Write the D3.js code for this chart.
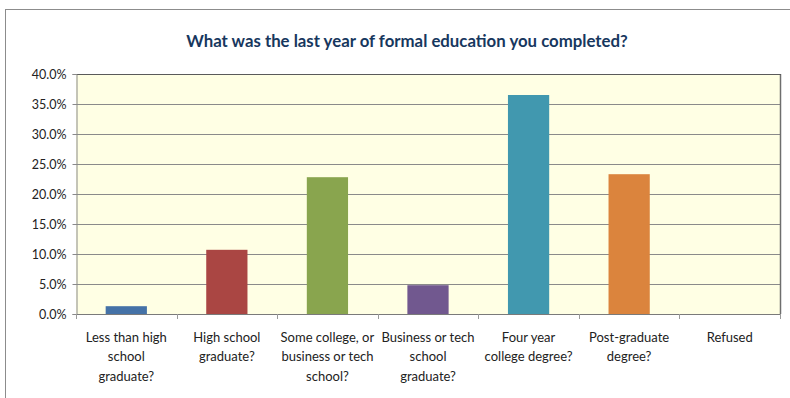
<!DOCTYPE html>
<html>
<head>
<meta charset="utf-8">
<script src="https://cdn.jsdelivr.net/npm/d3@7"></script>
<style>
  html, body { margin: 0; padding: 0; background: #fff; }
  svg { display: block; }
  text { font-family: Lato, "Open Sans", sans-serif; }
</style>
</head>
<body>
<svg id="chart" width="790" height="398"></svg>
<script>
// Survey responses: share of respondents by highest education completed
const categories = [
  "Less than high school graduate?",
  "High school graduate?",
  "Some college, or business or tech school?",
  "Business or tech school graduate?",
  "Four year college degree?",
  "Post-graduate degree?",
  "Refused"
];
const categoryLines = [
  ["Less than high", "school", "graduate?"],
  ["High school", "graduate?"],
  ["Some college, or", "business or tech", "school?"],
  ["Business or tech", "school", "graduate?"],
  ["Four year", "college degree?"],
  ["Post-graduate", "degree?"],
  ["Refused"]
];
const values = [0.013, 0.107, 0.228, 0.048, 0.365, 0.233, 0.0];
const barColors = ["#4572A7", "#AA4643", "#89A54E", "#71588F", "#4198AF", "#DB843D", "#93A9CF"];
const yTicks = [0, 0.05, 0.10, 0.15, 0.20, 0.25, 0.30, 0.35, 0.40];
const title = "What was the last year of formal education you completed?";

const svg = d3.select("#chart");
const plot = { left: 76, right: 780, top: 74, bottom: 314 };

// Outer chart frame
svg.append("rect")
  .attr("x", 5.5).attr("y", 9.5)
  .attr("width", 800).attr("height", 400)
  .attr("fill", "#fff").attr("stroke", "#8c8c8c").attr("stroke-width", 1);

svg.append("text")
  .attr("x", 407).attr("y", 47)
  .attr("text-anchor", "middle")
  .attr("font-size", 16.8).attr("font-weight", "bold")
  .attr("fill", "#17375E")
  .text(title);

const x = d3.scaleBand().domain(categories).range([plot.left, plot.right]).padding(0);
const y = d3.scaleLinear().domain([0, 0.40]).range([plot.bottom, plot.top]);

// Plot area fill
svg.append("rect")
  .attr("x", plot.left).attr("y", plot.top)
  .attr("width", plot.right - plot.left).attr("height", plot.bottom - plot.top)
  .attr("fill", "#FFFFE4");

// Horizontal gridlines
svg.append("g").selectAll("line")
  .data(yTicks.filter(t => t > 0))
  .join("line")
  .attr("x1", plot.left).attr("x2", plot.right)
  .attr("y1", d => Math.round(y(d)) + 0.5).attr("y2", d => Math.round(y(d)) + 0.5)
  .attr("stroke", "#8a8a8a").attr("stroke-width", 1);

// Right and top border of the plot area
svg.append("line")
  .attr("x1", plot.right + 0.5).attr("x2", plot.right + 0.5)
  .attr("y1", plot.top).attr("y2", plot.bottom)
  .attr("stroke", "#6e6e6e").attr("stroke-width", 1.5);
svg.append("line")
  .attr("x1", plot.left).attr("x2", plot.right + 1)
  .attr("y1", plot.top + 0.5).attr("y2", plot.top + 0.5)
  .attr("stroke", "#5a5a5a").attr("stroke-width", 1);

// Bars
const barW = x.bandwidth() * 0.41;
svg.append("g").selectAll("rect")
  .data(values)
  .join("rect")
  .attr("x", (d, i) => x(categories[i]) + (x.bandwidth() - barW) / 2)
  .attr("y", d => y(d))
  .attr("width", barW)
  .attr("height", d => y(0) - y(d))
  .attr("fill", (d, i) => barColors[i]);

// Y axis
const yAxis = svg.append("g")
  .attr("transform", `translate(${plot.left + 0.5},0)`)
  .call(d3.axisLeft(y).tickValues(yTicks).tickFormat(d3.format(".1%")).tickSize(4).tickPadding(6));
yAxis.select(".domain").attr("stroke", "#8a8a8a");
yAxis.selectAll(".tick line").attr("stroke", "#8a8a8a");
yAxis.selectAll(".tick text")
  .attr("font-size", 12.5).attr("fill", "#222")
  .style("font-family", "Lato, 'Open Sans', sans-serif");

// X axis with ticks at category boundaries
svg.append("line")
  .attr("x1", plot.left).attr("x2", plot.right + 1)
  .attr("y1", plot.bottom + 0.5).attr("y2", plot.bottom + 0.5)
  .attr("stroke", "#7a7a7a").attr("stroke-width", 1.2);
const boundaries = categories.map(c => x(c)).concat([plot.right]);
svg.append("g").selectAll("line")
  .data(boundaries)
  .join("line")
  .attr("x1", d => Math.round(d) + 0.5).attr("x2", d => Math.round(d) + 0.5)
  .attr("y1", plot.bottom).attr("y2", plot.bottom + 5)
  .attr("stroke", "#9a9a9a");

// Category labels, wrapped on multiple lines
const labels = svg.append("g").selectAll("text")
  .data(categoryLines)
  .join("text")
  .attr("text-anchor", "middle")
  .attr("font-size", 13)
  .attr("fill", "#222");
labels.each(function (lines, i) {
  const cx = x(categories[i]) + x.bandwidth() / 2;
  d3.select(this).selectAll("tspan")
    .data(lines)
    .join("tspan")
    .attr("x", cx)
    .attr("y", (d, j) => 342 + j * 19.3)
    .text(d => d);
});
</script>
</body>
</html>
